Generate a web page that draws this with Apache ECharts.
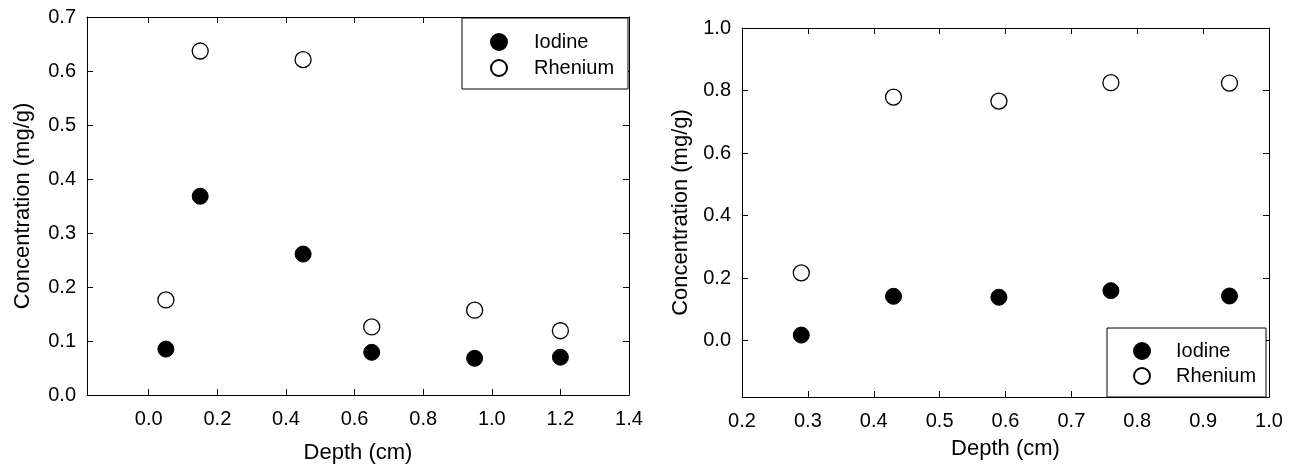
<!DOCTYPE html>
<html>
<head>
<meta charset="utf-8">
<script src="https://cdn.jsdelivr.net/npm/echarts@6/dist/echarts.min.js"></script>
<style>
html,body{margin:0;padding:0;background:#fff;}
#c{width:1294px;height:472px;}
</style>
</head>
<body>
<div id="c"></div>
<script>
// ---- data ----
const seriesNames = ['Iodine', 'Rhenium'];
// left panel
const leftDepth = [0.05, 0.15, 0.45, 0.65, 0.95, 1.20];
const leftIodine = [0.085, 0.368, 0.261, 0.079, 0.068, 0.070];
const leftRhenium = [0.176, 0.637, 0.621, 0.126, 0.157, 0.119];
const leftXTicks = [0.0, 0.2, 0.4, 0.6, 0.8, 1.0, 1.2, 1.4];
const leftYTicks = [0.0, 0.1, 0.2, 0.3, 0.4, 0.5, 0.6, 0.7];
// right panel
const rightDepth = [0.29, 0.43, 0.59, 0.76, 0.94];
const rightIodine = [0.018, 0.142, 0.139, 0.160, 0.143];
const rightRhenium = [0.217, 0.779, 0.766, 0.825, 0.824];
const rightXTicks = [0.2, 0.3, 0.4, 0.5, 0.6, 0.7, 0.8, 0.9, 1.0];
const rightYTicks = [0.0, 0.2, 0.4, 0.6, 0.8, 1.0];
const xTitle = 'Depth (cm)';
const yTitle = 'Concentration (mg/g)';

const FONT = '"Liberation Sans", Arial, Helvetica, sans-serif';
const BLACK = '#000';
const LBL = 20;
const TTL = 22;

function pairs(xs, ys){ return xs.map((x,i)=>[x, ys[i]]); }
const fmt = v => Number(v).toFixed(1);

function mainX(grid, min, max, ticks, nameGap){
  return {
    type:'value', gridIndex:grid, min:min, max:max, position:'bottom',
    name:xTitle, nameLocation:'middle', nameGap:nameGap,
    nameTextStyle:{fontFamily:FONT, fontSize:TTL, color:BLACK},
    axisLine:{show:true, onZero:false, lineStyle:{color:BLACK, width:1}},
    axisTick:{show:true, inside:true, length:6, customValues:ticks, lineStyle:{color:BLACK}},
    axisLabel:{show:true, customValues:ticks, formatter:fmt, margin:14, fontFamily:FONT, fontSize:LBL, color:BLACK},
    splitLine:{show:false}
  };
}
function mirrorX(grid, min, max, ticks){
  return {
    type:'value', gridIndex:grid, min:min, max:max, position:'top',
    axisLine:{show:true, onZero:false, lineStyle:{color:BLACK, width:1}},
    axisTick:{show:true, inside:true, length:6, customValues:ticks, lineStyle:{color:BLACK}},
    axisLabel:{show:false, customValues:ticks},
    splitLine:{show:false}
  };
}
function mainY(grid, min, max, ticks, nameGap){
  return {
    type:'value', gridIndex:grid, min:min, max:max, position:'left',
    name:yTitle, nameLocation:'middle', nameGap:nameGap,
    nameTextStyle:{fontFamily:FONT, fontSize:TTL, color:BLACK},
    axisLine:{show:true, onZero:false, lineStyle:{color:BLACK, width:1}},
    axisTick:{show:true, inside:true, length:6, customValues:ticks, lineStyle:{color:BLACK}},
    axisLabel:{show:true, customValues:ticks, formatter:fmt, margin:11, fontFamily:FONT, fontSize:LBL, color:BLACK},
    splitLine:{show:false}
  };
}
function mirrorY(grid, min, max, ticks){
  return {
    type:'value', gridIndex:grid, min:min, max:max, position:'right',
    axisLine:{show:true, onZero:false, lineStyle:{color:BLACK, width:1}},
    axisTick:{show:true, inside:true, length:6, customValues:ticks, lineStyle:{color:BLACK}},
    axisLabel:{show:false, customValues:ticks},
    splitLine:{show:false}
  };
}

const filled = {color:BLACK, borderColor:BLACK, borderWidth:1, opacity:1};
const hollow = {color:'#fff', borderColor:BLACK, borderWidth:1.3, opacity:1};
function sc(name, x, y, data, style){
  return {type:'scatter', name:name, xAxisIndex:x, yAxisIndex:y, data:data,
    symbol:'circle', symbolSize:16, itemStyle:style, emphasis:{disabled:true}, z:3};
}

const chart = echarts.init(document.getElementById('c'), null, {renderer:'canvas'});
chart.setOption({
  animation:false,
  backgroundColor:'#fff',
  textStyle:{fontFamily:FONT},
  grid:[
    {left:87, top:17, width:542, height:378},
    {left:742, top:28, width:527, height:369}
  ],
  xAxis:[
    mainX(0, -0.18, 1.4, leftXTicks, 47),
    mirrorX(0, -0.18, 1.4, leftXTicks),
    mainX(1, 0.2, 1.0, rightXTicks, 41),
    mirrorX(1, 0.2, 1.0, rightXTicks)
  ],
  yAxis:[
    mainY(0, 0, 0.7, leftYTicks, 53),
    mirrorY(0, 0, 0.7, leftYTicks),
    mainY(1, -0.18, 1.0, rightYTicks, 50),
    mirrorY(1, -0.18, 1.0, rightYTicks)
  ],
  legend:[
    {left:462, top:18, orient:'vertical', padding:[14,10,10,28], itemWidth:16, itemHeight:16, itemGap:6,
     selectedMode:false, data:seriesNames,
     textStyle:{fontFamily:FONT, fontSize:LBL, color:BLACK, padding:[0,0,0,22]}},
    {left:1107, top:328, orient:'vertical', padding:[13,10,10,26], itemWidth:16, itemHeight:16, itemGap:5,
     selectedMode:false, data:seriesNames,
     textStyle:{fontFamily:FONT, fontSize:LBL, color:BLACK, padding:[0,0,0,21]}}
  ],
  graphic:[
    {type:'rect', shape:{x:462, y:18, width:166, height:71}, style:{fill:'#fff', stroke:BLACK, lineWidth:1}, z:1},
    {type:'rect', shape:{x:1107, y:328, width:159, height:69}, style:{fill:'#fff', stroke:BLACK, lineWidth:1}, z:1}
  ],
  series:[
    sc(seriesNames[0], 0, 0, pairs(leftDepth, leftIodine), filled),
    sc(seriesNames[1], 0, 0, pairs(leftDepth, leftRhenium), hollow),
    sc(seriesNames[0], 2, 2, pairs(rightDepth, rightIodine), filled),
    sc(seriesNames[1], 2, 2, pairs(rightDepth, rightRhenium), hollow)
  ]
});
</script>
</body>
</html>
